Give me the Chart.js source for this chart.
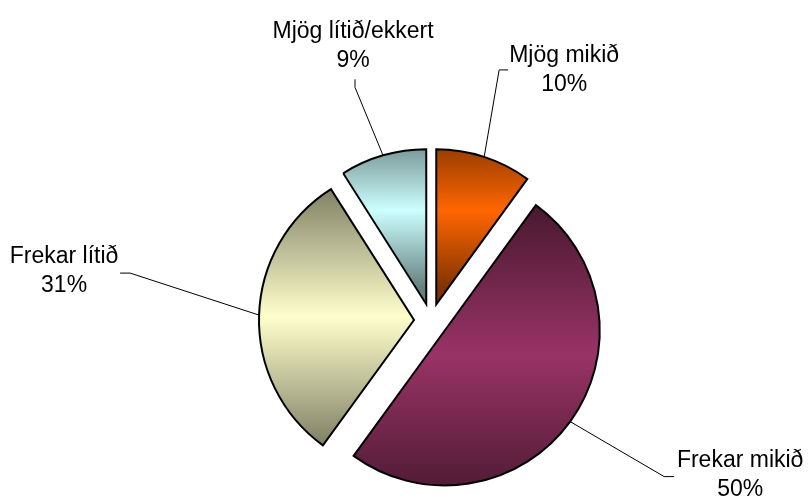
<!DOCTYPE html>
<html>
<head>
<meta charset="utf-8">
<style>
  html, body { margin: 0; padding: 0; background: #fff; }
  #wrap { width: 808px; height: 501px; position: relative; }
</style>
<script src="https://cdn.jsdelivr.net/npm/chart.js@4.4.1/dist/chart.umd.min.js"></script>
</head>
<body>
<div id="wrap"><canvas id="pie"></canvas></div>
<script>
// ==================== DATA ====================
const categories = ['Mjög mikið', 'Frekar mikið', 'Frekar lítið', 'Mjög lítið/ekkert'];
const shares = [10, 50, 31, 9];
const pctLabels = ['10%', '50%', '31%', '9%'];

// Excel style fill: light in the middle, dark at top and bottom of each slice
const lightColors = ['#ff6600', '#993366', '#ffffcc', '#ccffff'];
const darkColors = ['#803300', '#4d1a33', '#808066', '#668080'];

const RADIUS = 155;
const EXPLODE = 17;
const LINE_GAP = 29;

// leader line bends + text position, relative to the arc midpoint of each slice
const labelLayout = [
  { leader: [[15, -87], [24, -87]], text: [80, -95] },
  { leader: [[94, 55], [104, 55]], text: [170, 45] },
  { leader: [[-129, -42], [-139, -42]], text: [-195, -52] },
  { leader: [[-28, -68], [-28, -76]], text: [-30, -117] }
];

// ==================== EXPLODED SLICES ====================
// every slice is pulled out by the same distance along its mid angle
const ArcEl = Chart.ArcElement || Chart.registry.getElement('arc');
const baseArcDraw = ArcEl.prototype.draw;
ArcEl.prototype.draw = function (ctx) {
  const mid = (this.startAngle + this.endAngle) / 2;
  ctx.save();
  ctx.translate(Math.cos(mid) * EXPLODE, Math.sin(mid) * EXPLODE);
  baseArcDraw.call(this, ctx);
  ctx.restore();
};

function sliceGradient(context) {
  const i = context.dataIndex;
  const chart = context.chart;
  const area = chart.chartArea;
  if (i === undefined) return lightColors[0];
  if (!area) return lightColors[i];

  const total = shares.reduce((a, b) => a + b, 0);
  const before = shares.slice(0, i).reduce((a, b) => a + b, 0);
  const start = -Math.PI / 2 + before / total * 2 * Math.PI;
  const end = start + shares[i] / total * 2 * Math.PI;
  const mid = (start + end) / 2;
  const cy = (area.top + area.bottom) / 2 + Math.sin(mid) * EXPLODE;

  const ys = [cy, cy + Math.sin(start) * RADIUS, cy + Math.sin(end) * RADIUS];
  if (Math.PI / 2 > start && Math.PI / 2 < end) ys.push(cy + RADIUS);
  const y0 = Math.min(...ys);
  const y1 = Math.max(...ys);

  const g = chart.ctx.createLinearGradient(0, y0, 0, y1);
  g.addColorStop(0, darkColors[i]);
  g.addColorStop(0.5, lightColors[i]);
  g.addColorStop(1, darkColors[i]);
  return g;
}

const leaderLabels = {
  id: 'leaderLabels',
  afterDatasetsDraw(chart) {
    const ctx = chart.ctx;
    const arcs = chart.getDatasetMeta(0).data;
    ctx.save();
    ctx.font = '23px "Liberation Sans", Arial, sans-serif';
    ctx.fillStyle = '#000';
    ctx.strokeStyle = '#000';
    ctx.lineWidth = 1;
    ctx.textAlign = 'center';
    ctx.textBaseline = 'alphabetic';
    arcs.forEach((arc, i) => {
      const { x, y, startAngle, endAngle, outerRadius } =
        arc.getProps(['x', 'y', 'startAngle', 'endAngle', 'outerRadius'], true);
      const mid = (startAngle + endAngle) / 2;
      const ax = x + Math.cos(mid) * (EXPLODE + outerRadius);
      const ay = y + Math.sin(mid) * (EXPLODE + outerRadius);
      const lay = labelLayout[i];

      ctx.beginPath();
      ctx.moveTo(ax, ay);
      lay.leader.forEach(([dx, dy]) => ctx.lineTo(ax + dx, ay + dy));
      ctx.stroke();

      ctx.fillText(categories[i], ax + lay.text[0], ay + lay.text[1]);
      ctx.fillText(pctLabels[i], ax + lay.text[0], ay + lay.text[1] + LINE_GAP);
    });
    ctx.restore();
  }
};

new Chart(document.getElementById('pie'), {
  type: 'pie',
  data: {
    labels: categories,
    datasets: [{
      data: shares,
      backgroundColor: sliceGradient,
      borderColor: '#000',
      borderWidth: 2,
      borderJoinStyle: 'miter',
      radius: RADIUS
    }]
  },
  options: {
    responsive: true,
    maintainAspectRatio: false,
    animation: false,
    events: [],
    layout: { padding: { left: 54, right: 0, top: 140, bottom: 0 } },
    plugins: {
      legend: { display: false },
      tooltip: { enabled: false }
    }
  },
  plugins: [leaderLabels]
});
</script>
</body>
</html>
